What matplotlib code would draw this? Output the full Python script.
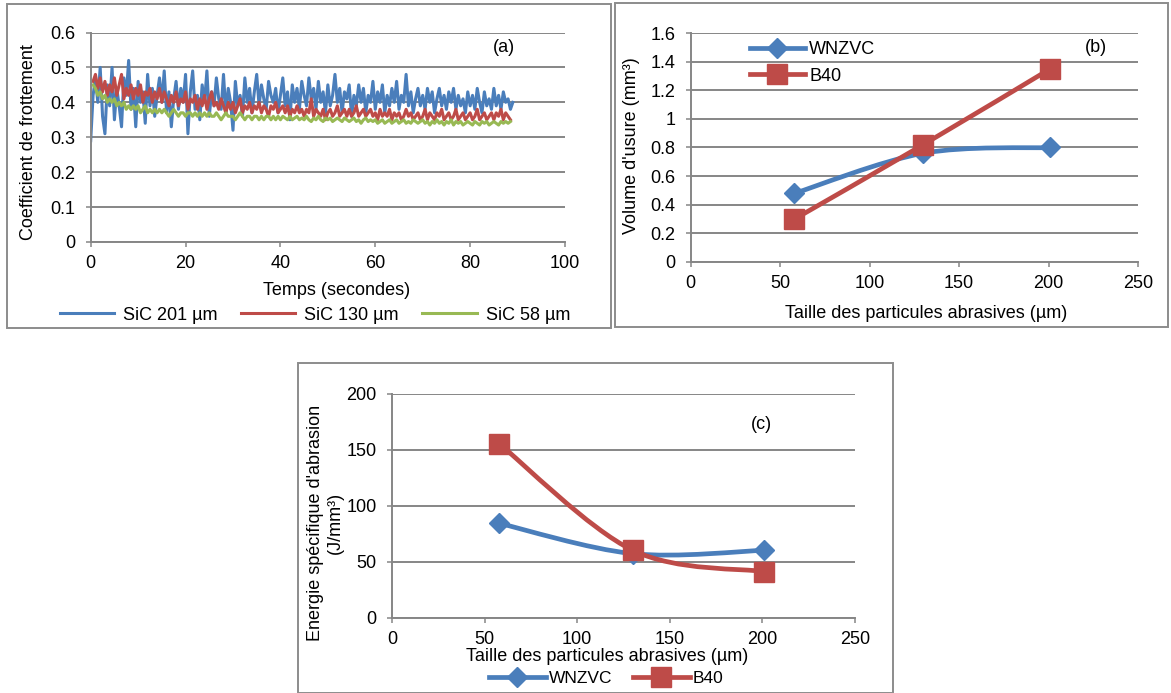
import numpy as np
import matplotlib
matplotlib.use("Agg")
import matplotlib.pyplot as plt
from matplotlib.path import Path
from matplotlib.patches import PathPatch, Rectangle
from matplotlib.lines import Line2D

plt.rcParams['font.family'] = ['Liberation Sans', 'DejaVu Sans']
plt.rcParams['font.size'] = 13

# ---- panel (a): friction coefficient vs time (read every 0.5 s) ----
sic201 = [0.29, 0.42, 0.47, 0.40, 0.50, 0.36, 0.31, 0.45, 0.39, 0.50,
          0.35, 0.44, 0.39, 0.33, 0.47, 0.42, 0.52, 0.38, 0.44, 0.33,
          0.46, 0.40, 0.43, 0.34, 0.48, 0.39, 0.44, 0.36, 0.42, 0.47,
          0.40, 0.49, 0.37, 0.43, 0.33, 0.41, 0.46, 0.38, 0.44, 0.40,
          0.48, 0.31, 0.43, 0.49, 0.38, 0.42, 0.35, 0.45, 0.40, 0.49,
          0.36, 0.43, 0.39, 0.47, 0.41, 0.38, 0.48, 0.37, 0.44, 0.40,
          0.32, 0.46, 0.39, 0.42, 0.36, 0.47, 0.40, 0.44, 0.37, 0.43,
          0.48, 0.39, 0.45, 0.41, 0.38, 0.46, 0.42, 0.40, 0.44, 0.37,
          0.42, 0.47, 0.39, 0.43, 0.35, 0.45, 0.40, 0.44, 0.38, 0.46,
          0.42, 0.39, 0.47, 0.41, 0.44, 0.38, 0.46, 0.40, 0.43, 0.37,
          0.45, 0.39, 0.42, 0.48, 0.40, 0.44, 0.37, 0.43, 0.41, 0.45,
          0.36, 0.42, 0.39, 0.45, 0.40, 0.44, 0.37, 0.42, 0.40, 0.46,
          0.38, 0.43, 0.40, 0.45, 0.37, 0.42, 0.39, 0.44, 0.40, 0.46,
          0.38, 0.42, 0.40, 0.48, 0.39, 0.43, 0.37, 0.41, 0.44, 0.39,
          0.42, 0.38, 0.44, 0.40, 0.43, 0.37, 0.41, 0.44, 0.39, 0.42,
          0.38, 0.43, 0.40, 0.44, 0.38, 0.42, 0.39, 0.41, 0.37, 0.43,
          0.39, 0.42, 0.38, 0.44, 0.40, 0.37, 0.43, 0.39, 0.41, 0.38,
          0.44, 0.39, 0.42, 0.38, 0.43, 0.40, 0.41, 0.38, 0.40]
sic130 = [0.46, 0.48, 0.44, 0.47, 0.43, 0.46, 0.42, 0.45, 0.43,
          0.47, 0.42, 0.45, 0.48, 0.41, 0.44, 0.42, 0.45, 0.41, 0.44,
          0.42, 0.45, 0.40, 0.43, 0.42, 0.44, 0.40, 0.43, 0.41, 0.44,
          0.40, 0.43, 0.41, 0.39, 0.42, 0.40, 0.43, 0.39, 0.41, 0.40,
          0.43, 0.38, 0.41, 0.40, 0.42, 0.38, 0.41, 0.39, 0.42, 0.38,
          0.41, 0.43, 0.39, 0.40, 0.38, 0.41, 0.39, 0.37, 0.40, 0.38,
          0.40, 0.37, 0.39, 0.41, 0.37, 0.39, 0.38, 0.40, 0.37, 0.39,
          0.38, 0.40, 0.37, 0.39, 0.38, 0.36, 0.39, 0.38, 0.40, 0.37,
          0.38, 0.39, 0.37, 0.39, 0.36, 0.38, 0.37, 0.39, 0.37, 0.38,
          0.36, 0.38, 0.37, 0.41, 0.36, 0.38, 0.37, 0.36, 0.38, 0.35,
          0.37, 0.38, 0.36, 0.37, 0.39, 0.36, 0.37, 0.38, 0.36, 0.38,
          0.36, 0.37, 0.39, 0.36, 0.37, 0.38, 0.36, 0.37, 0.38, 0.36,
          0.37, 0.35, 0.38, 0.36, 0.37, 0.36, 0.38, 0.35, 0.37, 0.36,
          0.37, 0.35, 0.36, 0.38, 0.36, 0.37, 0.35, 0.36, 0.37, 0.35,
          0.36, 0.38, 0.35, 0.37, 0.36, 0.35, 0.37, 0.36, 0.38, 0.35,
          0.36, 0.37, 0.35, 0.36, 0.38, 0.35, 0.36, 0.37, 0.35, 0.36,
          0.37, 0.35, 0.36, 0.38, 0.35, 0.36, 0.37, 0.35, 0.36, 0.37,
          0.35, 0.37, 0.36, 0.38, 0.35, 0.37, 0.36, 0.35]
sic58 = [0.45, 0.44, 0.42, 0.43, 0.41, 0.42, 0.40, 0.41, 0.40,
         0.41, 0.39, 0.40, 0.39, 0.40, 0.38, 0.39, 0.38, 0.39, 0.38,
         0.39, 0.37, 0.38, 0.39, 0.37, 0.38, 0.37, 0.38, 0.37, 0.38,
         0.37, 0.38, 0.37, 0.36, 0.37, 0.38, 0.37, 0.36, 0.37, 0.37,
         0.36, 0.37, 0.37, 0.36, 0.37, 0.36, 0.37, 0.36, 0.37, 0.36,
         0.37, 0.36, 0.36, 0.37, 0.36, 0.35, 0.36, 0.37, 0.36, 0.36,
         0.36, 0.35, 0.36, 0.37, 0.36, 0.35, 0.36, 0.36, 0.35, 0.36,
         0.36, 0.35, 0.36, 0.35, 0.36, 0.36, 0.35, 0.36, 0.35, 0.36,
         0.35, 0.36, 0.355, 0.35, 0.36, 0.35, 0.355, 0.36, 0.35, 0.355,
         0.35, 0.36, 0.35, 0.345, 0.355, 0.35, 0.36, 0.35, 0.345, 0.355,
         0.35, 0.355, 0.345, 0.35, 0.355, 0.35, 0.345, 0.355, 0.35, 0.345,
         0.35, 0.355, 0.345, 0.35, 0.34, 0.35, 0.355, 0.345, 0.35, 0.345,
         0.35, 0.34, 0.345, 0.35, 0.34, 0.345, 0.35, 0.34, 0.345, 0.35,
         0.34, 0.345, 0.35, 0.34, 0.345, 0.34, 0.35, 0.345, 0.34, 0.345,
         0.35, 0.34, 0.345, 0.335, 0.345, 0.34, 0.35, 0.34, 0.345, 0.335,
         0.345, 0.34, 0.35, 0.335, 0.345, 0.34, 0.345, 0.335, 0.34, 0.345,
         0.34, 0.335, 0.345, 0.34, 0.335, 0.345, 0.34, 0.345, 0.335, 0.34,
         0.345, 0.34, 0.335, 0.345, 0.34, 0.345, 0.34, 0.345]
t201 = 0.5 * np.arange(len(sic201))
t130 = 0.5 + 0.5 * np.arange(len(sic130))
t58 = 0.5 + 0.5 * np.arange(len(sic58))

# ---- panels (b) and (c) ----
taille = [58, 130, 201]
vol_wnzvc = [0.48, 0.76, 0.80]
vol_b40 = [0.30, 0.82, 1.35]
ener_wnzvc = [84, 57, 60]
ener_b40 = [155, 60, 41]

BLUE = '#4A7EBB'
RED = '#BE4B48'
GREEN = '#98B954'
GRAY = '#868686'
FS = 13


def smooth_path(xs, ys):
    # excel-like smoothed line (catmull-rom as cubic bezier)
    pts = np.column_stack([xs, ys]).astype(float)
    n = len(pts)
    verts = [pts[0]]
    codes = [Path.MOVETO]
    for i in range(n - 1):
        p0 = pts[max(i - 1, 0)]
        p1 = pts[i]
        p2 = pts[i + 1]
        p3 = pts[min(i + 2, n - 1)]
        verts += [p1 + (p2 - p0) / 6, p2 - (p3 - p1) / 6, p2]
        codes += [Path.CURVE4] * 3
    return Path(verts, codes)


def style_axes(ax):
    ax.yaxis.grid(True, color=GRAY, lw=1.4)
    ax.set_axisbelow(True)
    for s in ['top', 'right']:
        ax.spines[s].set_visible(False)
    for s in ['left', 'bottom']:
        ax.spines[s].set_color(GRAY)
        ax.spines[s].set_linewidth(1.4)
    ax.tick_params(axis='both', direction='out', length=3.6, width=1.1,
                   color=GRAY, labelcolor='black', labelsize=FS)
    ax.tick_params(axis='y', pad=7.5)
    ax.tick_params(axis='x', pad=6)


def draw_series(ax, xs, ys, color, marker, ms, z):
    ax.add_patch(PathPatch(smooth_path(xs, ys), facecolor='none', edgecolor=color,
                           lw=3.4, capstyle='round', joinstyle='round', zorder=z))
    ax.plot(xs, ys, linestyle='none', marker=marker, ms=ms, color=color,
            mec=color, zorder=z + 0.5)


W, H = 1171, 693
fig = plt.figure(figsize=(W / 100, H / 100), dpi=100)

# frames around each chart
for (x0, y0, x1, y1) in [(6.7, 4, 610.5, 327.7), (615, 3, 1168, 327), (298, 363, 893, 693)]:
    fig.patches.append(Rectangle((x0 / W, 1 - y1 / H), (x1 - x0) / W, (y1 - y0) / H,
                                 transform=fig.transFigure, fill=False,
                                 edgecolor='#8c8c8c', lw=1.4))

# (a)
axa = fig.add_axes([90.7 / W, 1 - 242 / H, 474.3 / W, 209.5 / H])
style_axes(axa)
axa.plot(t201, sic201, color=BLUE, lw=2.2, label='SiC 201 µm')
axa.plot(t130, sic130, color=RED, lw=2.2, label='SiC 130 µm')
axa.plot(t58, sic58, color=GREEN, lw=2.2, label='SiC 58 µm')
axa.set_xlim(0, 100)
axa.set_ylim(0, 0.6)
axa.set_xticks([0, 20, 40, 60, 80, 100])
axa.set_yticks([0, 0.1, 0.2, 0.3, 0.4, 0.5, 0.6])
axa.set_yticklabels(['0', '0.1', '0.2', '0.3', '0.4', '0.5', '0.6'])
axa.set_xlabel('Temps (secondes)', fontsize=FS)
axa.xaxis.label.set_va('center')
axa.xaxis.set_label_coords(0.518, -0.232)
axa.set_ylabel('Coefficient de frottement', fontsize=FS)
axa.yaxis.label.set_va('center')
axa.yaxis.set_label_coords(-0.131, 0.477)
axa.text(0.871, 0.93, '(a)', transform=axa.transAxes, ha='center', va='center')
fig.legend(handles=axa.get_lines(), loc='center', bbox_to_anchor=(315 / W, 1 - 315 / H),
           ncol=3, frameon=False, handlelength=3.0, handletextpad=0.5,
           columnspacing=1.3, borderpad=0, borderaxespad=0, fontsize=FS)

# (b)
axb = fig.add_axes([690.7 / W, 1 - 262 / H, 447.3 / W, 229 / H])
style_axes(axb)
draw_series(axb, taille, vol_wnzvc, BLUE, 'D', 10.5, 3)
draw_series(axb, taille, vol_b40, RED, 's', 14, 4)
axb.set_xlim(0, 250)
axb.set_ylim(0, 1.6)
axb.set_xticks([0, 50, 100, 150, 200, 250])
axb.set_yticks([0, 0.2, 0.4, 0.6, 0.8, 1.0, 1.2, 1.4, 1.6])
axb.set_yticklabels(['0', '0.2', '0.4', '0.6', '0.8', '1', '1.2', '1.4', '1.6'])
axb.set_xlabel('Taille des particules abrasives (µm)', fontsize=FS)
axb.xaxis.label.set_va('center')
axb.xaxis.set_label_coords(0.527, -0.224)
axb.set_ylabel("Volume d'usure (mm³)", fontsize=FS)
axb.yaxis.label.set_va('center')
axb.yaxis.set_label_coords(-0.132, 0.507)
axb.text(0.905, 0.936, '(b)', transform=axb.transAxes, ha='center', va='center')
hb = [Line2D([], [], color=BLUE, lw=3.4, marker='D', ms=10.5),
      Line2D([], [], color=RED, lw=3.4, marker='s', ms=14)]
fig.legend(handles=hb, labels=['WNZVC', 'B40'], loc='center left',
           bbox_to_anchor=(749.5 / W, 1 - 63 / H), frameon=False, handlelength=3.1,
           handletextpad=0.2, labelspacing=0.5, borderpad=0, borderaxespad=0,
           numpoints=1, fontsize=FS)

# (c)
axc = fig.add_axes([392 / W, 1 - 617.5 / H, 463 / W, 224 / H])
style_axes(axc)
draw_series(axc, taille, ener_wnzvc, BLUE, 'D', 10.5, 3)
draw_series(axc, taille, ener_b40, RED, 's', 14, 4)
axc.set_xlim(0, 250)
axc.set_ylim(0, 200)
axc.set_xticks([0, 50, 100, 150, 200, 250])
axc.set_yticks([0, 50, 100, 150, 200])
axc.set_xlabel('Taille des particules abrasives (µm)', fontsize=FS)
axc.xaxis.label.set_va('center')
axc.xaxis.set_label_coords(0.465, -0.175)
axc.set_ylabel("Energie spécifique d'abrasion\n(J/mm³)", fontsize=FS)
axc.yaxis.label.set_va('center')
axc.yaxis.set_label_coords(-0.144, 0.422)
axc.text(0.798, 0.86, '(c)', transform=axc.transAxes, ha='center', va='center')
hc = [Line2D([], [], color=BLUE, lw=3.4, marker='D', ms=10.5),
      Line2D([], [], color=RED, lw=3.4, marker='s', ms=14)]
fig.legend(handles=hc, labels=['WNZVC', 'B40'], loc='center',
           bbox_to_anchor=(606 / W, 1 - 678 / H), ncol=2, frameon=False,
           handlelength=3.3, handletextpad=0.15, columnspacing=1.2, borderpad=0,
           borderaxespad=0, numpoints=1, fontsize=12.5)

fig.savefig('out.png', dpi=100, facecolor='white')
